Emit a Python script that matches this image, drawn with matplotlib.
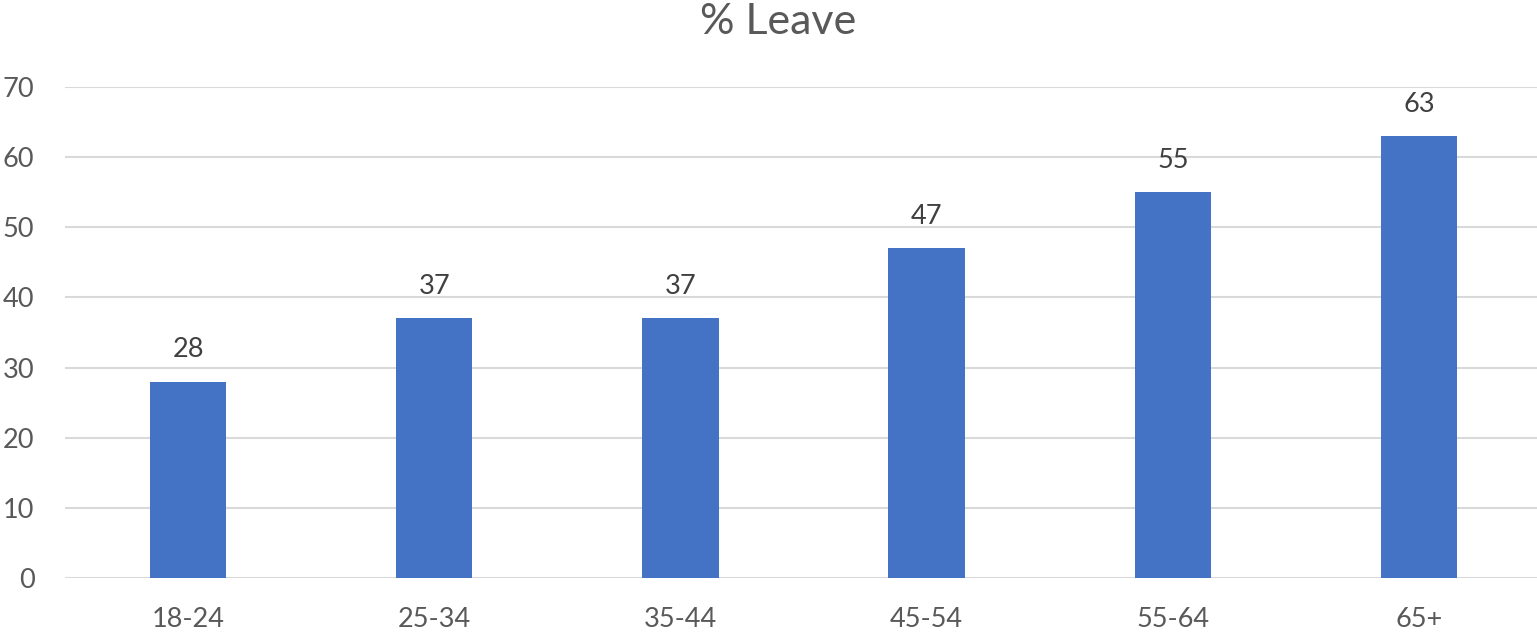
import matplotlib
matplotlib.use("Agg")
import matplotlib.pyplot as plt

categories = ["18-24", "25-34", "35-44", "45-54", "55-64", "65+"]
values = [28, 37, 37, 47, 55, 63]
yticks = [0, 10, 20, 30, 40, 50, 60, 70]
title = "% Leave"

plt.rcParams['font.family'] = ['Lato', 'DejaVu Sans']
text_color = "#595959"
bar_color = "#4472C4"
grid_color = "#D9D9D9"

fig = plt.figure(figsize=(15.37, 6.38), dpi=100)
ax = fig.add_axes([65/1537, 60/638, 1477/1537, (578-87)/638])

x = list(range(len(categories)))
bars = ax.bar(x, values, width=0.31, color=bar_color, zorder=3)
for xi, v in zip(x, values):
    ax.annotate(str(v), (xi, v), xytext=(0, 14), textcoords="offset points",
                ha="center", va="bottom", fontsize=19.5, color="#404040")

ax.set_xlim(-0.5, len(categories) - 0.5)
ax.set_ylim(0, 70)
ax.set_yticks(yticks)
ax.set_yticklabels([str(t) for t in yticks])
ax.set_xticks(x)
ax.set_xticklabels(categories)
ax.tick_params(axis='y', length=0, pad=22, labelsize=19.5, labelcolor=text_color)
ax.tick_params(axis='x', length=0, pad=21, labelsize=19.5, labelcolor=text_color)
ax.grid(axis='y', color=grid_color, linewidth=1.5, zorder=0)
for s in ax.spines.values():
    s.set_visible(False)

fig.text(778/1537, 1 - 22/638, title, ha="center", va="center", fontsize=31, color=text_color)

fig.savefig("out.png", dpi=100)
